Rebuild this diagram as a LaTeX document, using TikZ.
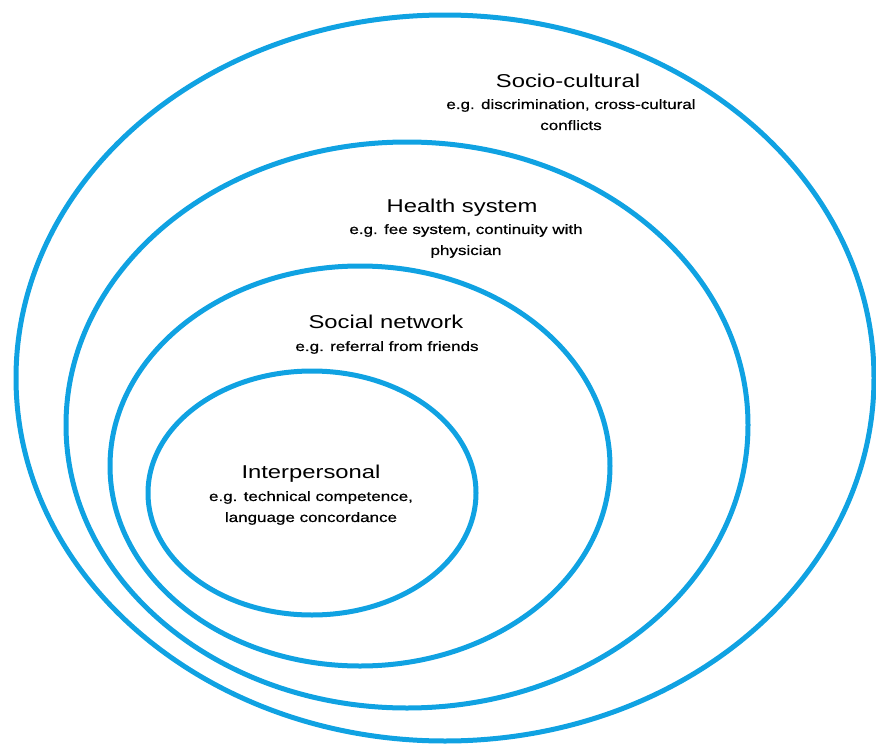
\documentclass[tikz,border=0pt]{standalone}
\usepackage{fontspec}
\newfontfamily\labelfont{Liberation Sans}[FakeStretch=1.28]
\newfontfamily\notefont{Liberation Sans}[FakeStretch=1.26,FakeBold=0.6]
\definecolor{ringblue}{RGB}{16,162,226}
\tikzset{
  ring/.style={draw=ringblue, line width=5pt},
  lvltitle/.style={font=\labelfont\fontsize{18.6}{21}\selectfont, anchor=base, inner sep=0pt},
  lvlnote/.style={font=\notefont\fontsize{13.5}{21}\selectfont, align=center, anchor=north, inner sep=0pt}
}

\begin{document}
\begin{tikzpicture}[x=1pt,y=-1pt]
\useasboundingbox (0,0) rectangle (876,744);
\coordinate (socioc) at (445,378);
\coordinate (healthc) at (407,425);
\coordinate (socialc) at (360,466);
\coordinate (interc) at (312,493);
\draw[ring] (socioc) ellipse [x radius=429, y radius=363];
\draw[ring] (healthc) ellipse [x radius=341, y radius=283];
\draw[ring] (socialc) ellipse [x radius=250, y radius=200];
\draw[ring] (interc) ellipse [x radius=164, y radius=122];
\node[lvltitle] (sociot) at (568,87) {Socio-cultural};
\node[lvlnote] (socion) at (571,99) {e.g. discrimination, cross-cultural\\conflicts};
\node[lvltitle] (healtht) at (462,212) {Health system};
\node[lvlnote] (healthn) at (466,224) {e.g. fee system, continuity with\\physician};
\node[lvltitle] (socialt) at (386,328) {Social network};
\node[lvlnote] (socialn) at (387,341) {e.g. referral from friends};
\node[lvltitle] (intert) at (311,478) {Interpersonal};
\node[lvlnote] (intern) at (311,491) {e.g. technical competence,\\language concordance};
\end{tikzpicture}
\end{document}
